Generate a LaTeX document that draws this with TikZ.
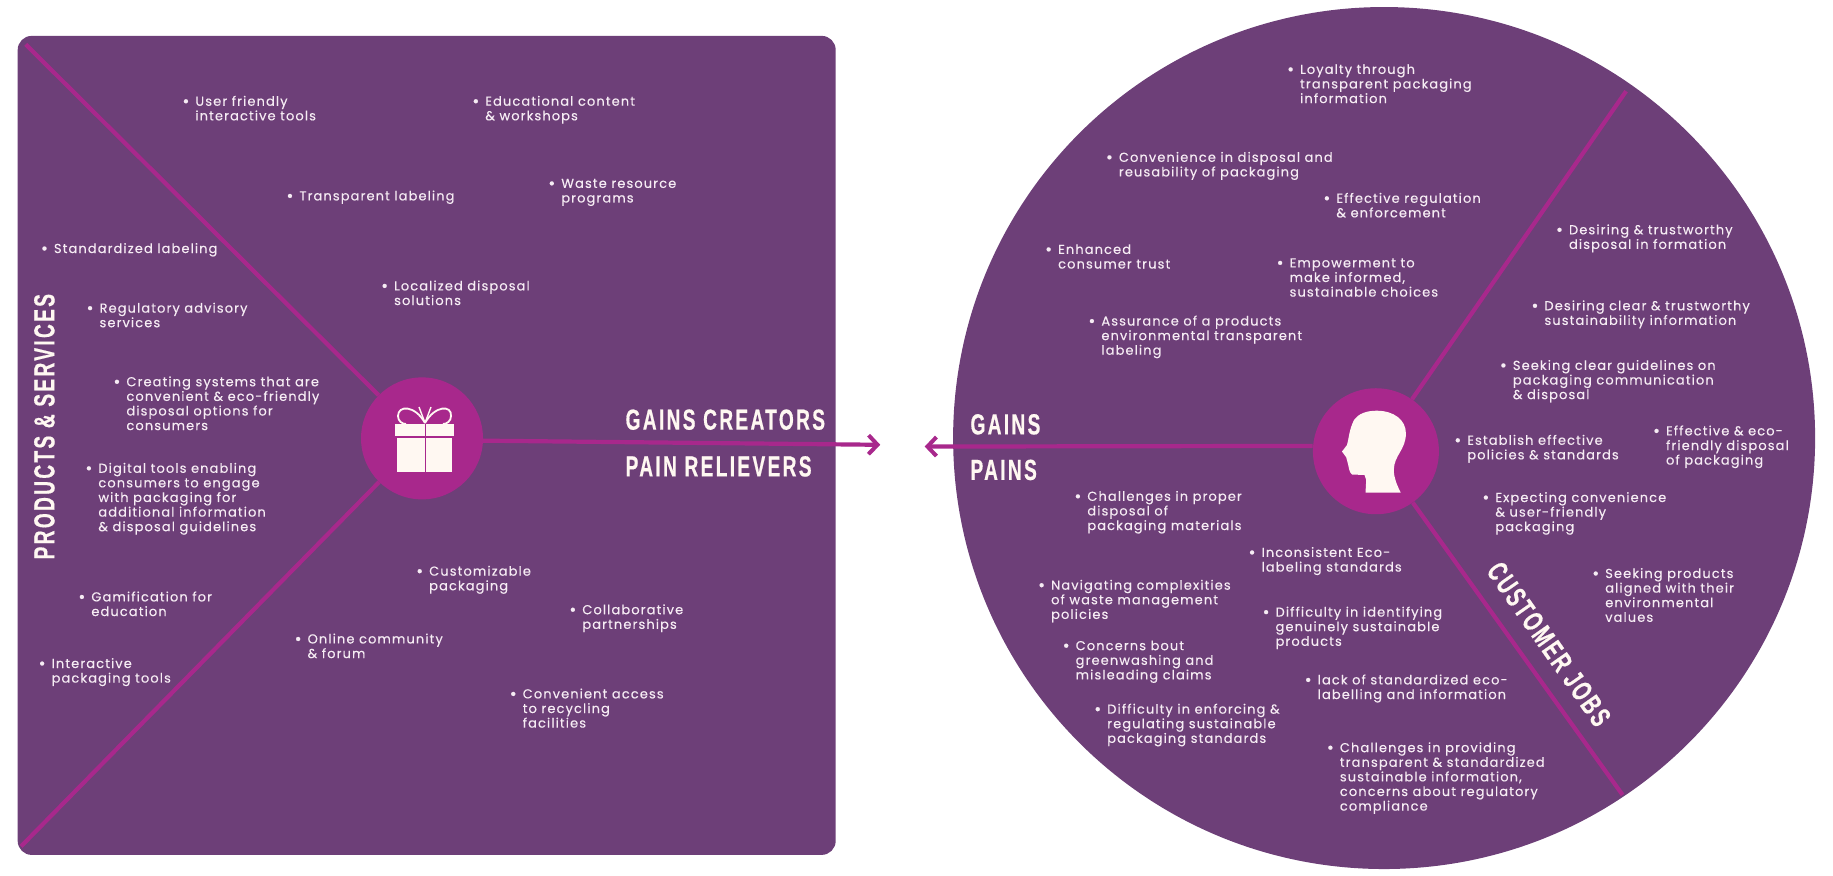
\documentclass[tikz,border=0pt]{standalone}
\usepackage{fontspec}
\usetikzlibrary{arrows.meta}
\setmainfont{Liberation Sans}
\newfontfamily\itemfont[LetterSpace=8.5,FakeBold=0.25]{Poppins}
\newfontfamily\headfont[FakeStretch=0.66,LetterSpace=8,FakeBold=0.5]{Liberation Sans Bold}
\definecolor{panel}{HTML}{6D3F78}
\definecolor{accent}{HTML}{A8288C}
\definecolor{ink}{HTML}{F6ECF4}
\definecolor{icon}{HTML}{FFF8F2}
\tikzset{
  itemtext/.style={anchor=north west,inner sep=0pt,align=left,text=ink,
    font=\itemfont\fontsize{13}{14.6}\selectfont},
  headtext/.style={inner sep=0pt,text=icon,font=\headfont\fontsize{29}{32}\selectfont},
  spoke/.style={draw=accent,line width=4.2pt},
  hub/.style={circle,fill=accent,inner sep=0pt,minimum size=122pt},
  arrowline/.style={draw=accent,line width=4.2pt,-{Straight Barb[length=9pt,width=19pt,line width=4pt]}}
}
\newcommand{\itm}[4]{\node[itemtext] (#1) at (#2,#3-5.2) {\llap{{\fontsize{17}{14.6}\selectfont\raisebox{-1.2pt}{\textbullet}}\hspace{6pt}}#4};}
\begin{document}
\begin{tikzpicture}[x=1.169pt,y=-1.169pt]
\useasboundingbox (0,0) rectangle (1568,749.3);
\node[fill=panel,rounded corners=14pt,inner sep=0pt,minimum width=818pt,minimum height=819pt] (leftpanel) at (365,381) {};
\node[circle,fill=panel,inner sep=0pt,minimum size=862pt] (bigcircle) at (1184,374.7) {};

\node[hub] (gift) at (361,375) {};
\node[hub,minimum size=126pt] (person) at (1177,386) {};
\coordinate (ltop) at (22,38);
\coordinate (lbot) at (18,724);
\coordinate (rtop) at (1391,78);
\coordinate (rbot) at (1388,680);
\coordinate (gifttip) at (753,380.5);
\coordinate (persontip) at (791,382);
\draw[spoke] (ltop) -- (gift);
\draw[spoke] (lbot) -- (gift);
\draw[spoke] (rtop) -- (person);
\draw[spoke] (rbot) -- (person);
\draw[arrowline] ([yshift=-2.3pt]gift.east) -- (gifttip);
\draw[arrowline] ([yshift=5.3pt]person.west) -- (persontip);

% gift icon
\begin{scope}[x=1pt,y=-1pt]
  \fill[icon] (395,424) rectangle (454,436);
  \fill[icon] (396.5,438) rectangle (452,472);
  \draw[accent,line width=1pt] (425,424) -- (425,472);
  \draw[icon,line width=1.8pt] (425,423) .. controls (415,405) and (398,405) .. (398,416) .. controls (398,421) and (402,424) .. (406,424);
  \draw[icon,line width=1.8pt] (425,423) .. controls (435,405) and (452,405) .. (451,416) .. controls (451,421) and (447,424) .. (443,424);
  \draw[icon,line width=1.4pt] (425,423) -- (419,407) (425,423) -- (431,407);
  % head icon
  \fill[icon] (1376.6,410.7) .. controls (1394,410.7) and (1405.9,420) .. (1405.9,433.3)
    .. controls (1405.9,450) and (1394,455) .. (1393.8,470)
    .. controls (1393.8,478) and (1397,485) .. (1400.7,492.7)
    -- (1365.5,492.7) -- (1366.2,480) -- (1364.5,475) -- (1352,474.5)
    .. controls (1349,472) and (1349,468) .. (1348,464)
    -- (1346.2,457.3) -- (1342,451.5) -- (1347,445)
    .. controls (1349,438) and (1349,430) .. (1354,420)
    .. controls (1358,414) and (1366,410.7) .. (1376.6,410.7) -- cycle;
\end{scope}

% headings
\node[headtext,rotate=90] (products) at (38,365) {PRODUCTS \& SERVICES};
\node[headtext,anchor=west] (creators) at (535,359) {GAINS CREATORS};
\node[headtext,anchor=west] (relievers) at (535,399) {PAIN RELIEVERS};
\node[headtext,anchor=west] (gains) at (830,363) {GAINS};
\node[headtext,anchor=west] (pains) at (830,402) {PAINS};
\node[headtext,rotate=-55] (jobs) at (1325,551) {CUSTOMER JOBS};

% left panel
\itm{a1}{167}{87}{User friendly\\interactive tools}
\itm{a2}{415}{87}{Educational content\\\& workshops}
\itm{a3}{256}{168}{Transparent labeling}
\itm{a4}{480}{158}{Waste resource\\programs}
\itm{a5}{46}{213}{Standardized labeling}
\itm{a6}{337}{245}{Localized disposal\\solutions}
\itm{a7}{85}{264}{Regulatory advisory\\services}
\itm{a8}{108}{327}{Creating systems that are\\convenient \& eco-friendly\\disposal options for\\consumers}
\itm{a9}{84}{401}{Digital tools enabling\\consumers to engage\\with packaging for\\additional information\\\& disposal guidelines}
\itm{a10}{78}{511}{Gamification for\\education}
\itm{a11}{44}{568}{Interactive\\packaging tools}
\itm{a12}{367}{489}{Customizable\\packaging}
\itm{a13}{498}{522}{Collaborative\\partnerships}
\itm{a14}{263}{547}{Online community\\\& forum}
\itm{a15}{447}{594}{Convenient access\\to recycling\\facilities}

% right circle
\itm{b1}{1112}{60}{Loyalty through\\transparent packaging\\information}
\itm{b2}{957}{135}{Convenience in disposal and\\reusability of packaging}
\itm{b3}{1143}{170}{Effective regulation\\\& enforcement}
\itm{b4}{1342}{197}{Desiring \& trustworthy\\disposal in formation}
\itm{b5}{905}{214}{Enhanced\\consumer trust}
\itm{b6}{1103}{226}{Empowerment to\\make informed,\\sustainable choices}
\itm{b7}{1321}{262}{Desiring clear \& trustworthy\\sustainability information}
\itm{b8}{942}{275}{Assurance of a products\\environmental transparent\\labeling}
\itm{b9}{1294}{313}{Seeking clear guidelines on\\packaging communication\\\& disposal}
\itm{b10}{1255}{377}{Establish effective\\policies \& standards}
\itm{b11}{1425}{369}{Effective \& eco-\\friendly disposal\\of packaging}
\itm{b12}{1279}{426}{Expecting convenience\\\& user-friendly\\packaging}
\itm{b13}{1373}{491}{Seeking products\\aligned with their\\environmental\\values}
\itm{b14}{930}{425}{Challenges in proper\\disposal of\\packaging materials}
\itm{b15}{1079}{473}{Inconsistent Eco-\\labeling standards}
\itm{b16}{899}{501}{Navigating complexities\\of waste management\\policies}
\itm{b17}{1091}{524}{Difficulty in identifying\\genuinely sustainable\\products}
\itm{b18}{920}{553}{Concerns bout\\greenwashing and\\misleading claims}
\itm{b19}{1127}{582}{lack of standardized eco-\\labelling and information}
\itm{b20}{947}{607}{Difficulty in enforcing \&\\regulating sustainable\\packaging standards}
\itm{b21}{1146}{640}{Challenges in providing\\transparent \& standardized\\sustainable information,\\concerns about regulatory\\compliance}
\end{tikzpicture}
\end{document}
